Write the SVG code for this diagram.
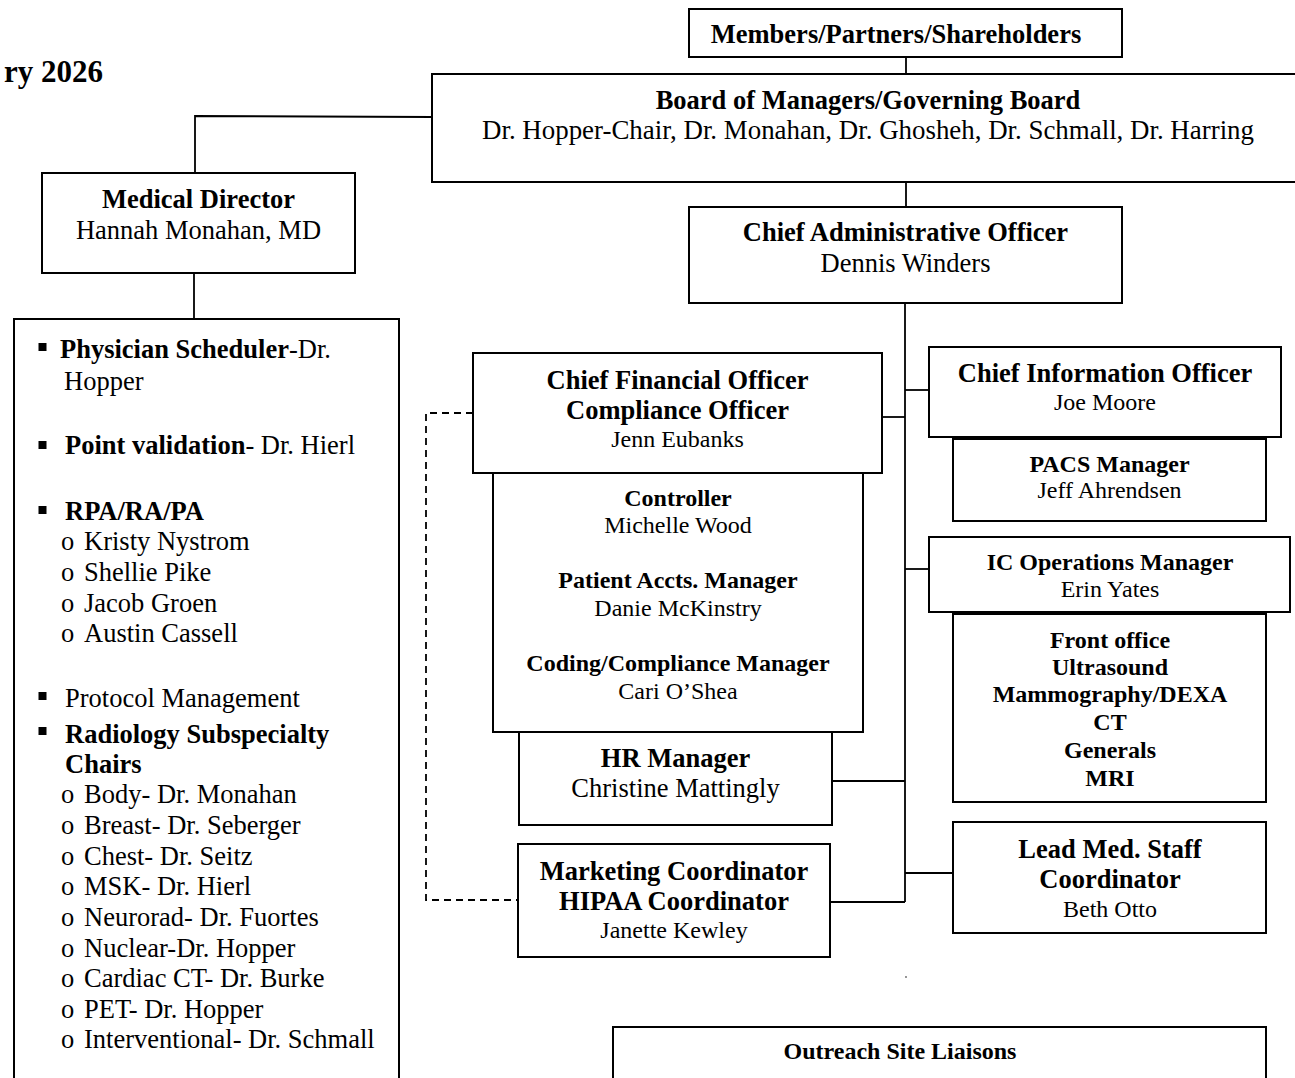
<svg xmlns="http://www.w3.org/2000/svg" width="1295" height="1078" viewBox="0 0 1295 1078">
<style>
text{font-family:"Liberation Serif","Times New Roman",serif;fill:#000}
.box{fill:#fff;stroke:#000;stroke-width:2}
.ln{fill:none;stroke:#000;stroke-width:1.8}
.dash{fill:none;stroke:#000;stroke-width:1.8;stroke-dasharray:7 5}
.t{font-size:26.5px;font-weight:bold;text-anchor:middle}
.n{font-size:26.5px;text-anchor:middle}
.ts{font-size:24px;font-weight:bold;text-anchor:middle}
.ns{font-size:24px;text-anchor:middle}
.li{font-size:26.5px}
.b{font-weight:bold}
</style>
<rect width="1295" height="1078" fill="#fff"/>
<text x="103" y="82" font-size="31" font-weight="bold" text-anchor="end">ry 2026</text>

<g id="connectors">
<path class="ln" d="M906,57 V74"/>
<path class="ln" d="M906,182 V207"/>
<path class="ln" d="M432,117 L195,116 V173"/>
<path class="ln" d="M194,273 V319"/>
<path class="ln" d="M905,303 V902"/>
<path class="ln" d="M882,417 H905"/>
<path class="ln" d="M905,390 H929"/>
<path class="ln" d="M905,569 H929"/>
<path class="ln" d="M832,781 H905"/>
<path class="ln" d="M830,902 H905"/>
<path class="ln" d="M905,873 H953"/>
<path class="dash" d="M473,413 H426 V900 H518"/>
<circle cx="906" cy="977" r="0.9" fill="#666"/>
</g>

<g id="members">
<rect class="box" x="689" y="9" width="433" height="48"/>
<text class="t" x="896" y="43">Members/Partners/Shareholders</text>
</g>

<g id="board">
<rect class="box" x="432" y="74" width="880" height="108"/>
<text class="t" x="868" y="109">Board of Managers/Governing Board</text>
<text class="n" x="868" y="139" textLength="772" lengthAdjust="spacingAndGlyphs">Dr. Hopper-Chair, Dr. Monahan, Dr. Ghosheh, Dr. Schmall, Dr. Harring</text>
</g>

<g id="cao">
<rect class="box" x="689" y="207" width="433" height="96"/>
<text class="t" x="905.5" y="241">Chief Administrative Officer</text>
<text class="n" x="905.5" y="272">Dennis Winders</text>
</g>

<g id="medical-director">
<rect class="box" x="42" y="173" width="313" height="100"/>
<text class="t" x="198.5" y="208">Medical Director</text>
<text class="n" x="198.5" y="239">Hannah Monahan, MD</text>
</g>

<g id="md-list">
<rect class="box" x="14" y="319" width="385" height="780"/>
<rect x="38.5" y="343" width="8" height="8"/>
<text class="li" x="60" y="358"><tspan class="b">Physician Scheduler</tspan>-Dr.</text>
<text class="li" x="64" y="390">Hopper</text>
<rect x="38.5" y="441" width="8" height="8"/>
<text class="li" x="65" y="454"><tspan class="b">Point validation</tspan>- Dr. Hierl</text>
<rect x="38.5" y="506" width="8" height="8"/>
<text class="li b" x="65" y="520">RPA/RA/PA</text>
<text class="li" x="61" y="550">o</text><text class="li" x="84" y="550">Kristy Nystrom</text>
<text class="li" x="61" y="581">o</text><text class="li" x="84" y="581">Shellie Pike</text>
<text class="li" x="61" y="612">o</text><text class="li" x="84" y="612">Jacob Groen</text>
<text class="li" x="61" y="642">o</text><text class="li" x="84" y="642">Austin Cassell</text>
<rect x="38.5" y="692" width="8" height="8"/>
<text class="li" x="65" y="707">Protocol Management</text>
<rect x="38.5" y="727" width="8" height="8"/>
<text class="li b" x="65" y="743">Radiology Subspecialty</text>
<text class="li b" x="65" y="773">Chairs</text>
<text class="li" x="61" y="803">o</text><text class="li" x="84" y="803">Body- Dr. Monahan</text>
<text class="li" x="61" y="834">o</text><text class="li" x="84" y="834">Breast- Dr. Seberger</text>
<text class="li" x="61" y="865">o</text><text class="li" x="84" y="865">Chest- Dr. Seitz</text>
<text class="li" x="61" y="895">o</text><text class="li" x="84" y="895">MSK- Dr. Hierl</text>
<text class="li" x="61" y="926">o</text><text class="li" x="84" y="926">Neurorad- Dr. Fuortes</text>
<text class="li" x="61" y="957">o</text><text class="li" x="84" y="957">Nuclear-Dr. Hopper</text>
<text class="li" x="61" y="987">o</text><text class="li" x="84" y="987">Cardiac CT- Dr. Burke</text>
<text class="li" x="61" y="1018">o</text><text class="li" x="84" y="1018">PET- Dr. Hopper</text>
<text class="li" x="61" y="1048">o</text><text class="li" x="84" y="1048">Interventional- Dr. Schmall</text>
</g>

<g id="controller">
<rect class="box" x="493" y="473" width="370" height="259"/>
<text class="ts" x="678" y="506">Controller</text>
<text class="ns" x="678" y="533">Michelle Wood</text>
<text class="ts" x="678" y="588">Patient Accts. Manager</text>
<text class="ns" x="678" y="616">Danie McKinstry</text>
<text class="ts" x="678" y="671">Coding/Compliance Manager</text>
<text class="ns" x="678" y="699">Cari O’Shea</text>
</g>

<g id="cfo">
<rect class="box" x="473" y="353" width="409" height="120"/>
<text class="t" x="677.5" y="389">Chief Financial Officer</text>
<text class="t" x="677.5" y="419">Compliance Officer</text>
<text class="ns" x="677.5" y="447">Jenn Eubanks</text>
</g>

<g id="hr">
<rect class="box" x="519" y="732" width="313" height="93"/>
<text class="t" x="675.5" y="767">HR Manager</text>
<text class="n" x="675.5" y="797">Christine Mattingly</text>
</g>

<g id="marketing">
<rect class="box" x="518" y="844" width="312" height="113"/>
<text class="t" x="674" y="880">Marketing Coordinator</text>
<text class="t" x="674" y="910">HIPAA Coordinator</text>
<text class="ns" x="674" y="938">Janette Kewley</text>
</g>

<g id="cio">
<rect class="box" x="929" y="347" width="352" height="90"/>
<text class="t" x="1105" y="382">Chief Information Officer</text>
<text class="ns" x="1105" y="410">Joe Moore</text>
</g>

<g id="pacs">
<rect class="box" x="953" y="439" width="313" height="82"/>
<text class="ts" x="1109.5" y="472">PACS Manager</text>
<text class="ns" x="1109.5" y="498">Jeff Ahrendsen</text>
</g>

<g id="ic-ops">
<rect class="box" x="929" y="537" width="361" height="75"/>
<text class="ts" x="1110" y="570">IC Operations Manager</text>
<text class="ns" x="1110" y="597">Erin Yates</text>
</g>

<g id="modalities">
<rect class="box" x="953" y="614" width="313" height="188"/>
<text class="ts" x="1110" y="648">Front office</text>
<text class="ts" x="1110" y="675">Ultrasound</text>
<text class="ts" x="1110" y="702">Mammography/DEXA</text>
<text class="ts" x="1110" y="730">CT</text>
<text class="ts" x="1110" y="758">Generals</text>
<text class="ts" x="1110" y="786">MRI</text>
</g>

<g id="lead-med-staff">
<rect class="box" x="953" y="822" width="313" height="111"/>
<text class="t" x="1110" y="858">Lead Med. Staff</text>
<text class="t" x="1110" y="888">Coordinator</text>
<text class="ns" x="1110" y="917">Beth Otto</text>
</g>

<g id="outreach">
<rect class="box" x="613" y="1027" width="653" height="80"/>
<text class="ts" x="900" y="1059">Outreach Site Liaisons</text>
</g>
</svg>
